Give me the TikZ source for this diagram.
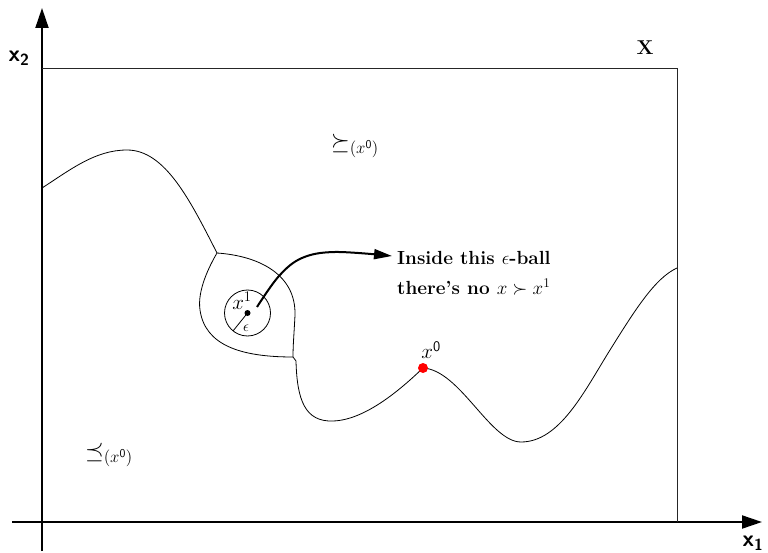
\RequirePackage{fix-cm}
\documentclass[tikz,border=0pt]{standalone}
\usepackage{amsmath,amssymb}
\usetikzlibrary{arrows.meta}
\tikzset{
  axis/.style={line width=2pt,-{Triangle[length=20pt,width=13pt]}},
  frame/.style={line width=0.9pt,draw=black!85},
  curve/.style={line width=0.8pt},
  lbl/.style={inner sep=0pt},
  axlbl/.style={inner sep=0pt,font=\fontsize{23}{26}\selectfont\sffamily\bfseries},
}
\begin{document}
\begin{tikzpicture}[x=1pt,y=-1pt]
\useasboundingbox (0,0) rectangle (768,553);
% axes
\coordinate (o) at (42,522);
\coordinate (ytop) at (42,8);
\coordinate (ybot) at (42,551);
\coordinate (xl) at (12,522);
\coordinate (xr) at (762,522);
\draw[axis] (ybot) -- (ytop);
\draw[axis] (xl) -- (xr);
\node[axlbl] (lx2) at (19,58) {x\textsubscript{2}};
\node[axlbl] (lx1) at (753,543) {x\textsubscript{1}};
% frame
\draw[frame] (42,68) -- (677,68) -- (677,522);
\node[lbl,font=\fontsize{20}{22}\selectfont\bfseries] (lX) at (645,48) {X};
% labels
\node[lbl,font=\fontsize{24}{26}\selectfont] (succ) at (355,146) {$\succeq_{(x^{\mathsf{0}})}$};
\node[lbl,font=\fontsize{24}{26}\selectfont] (prec) at (109,455) {$\preceq_{(x^{\mathsf{0}})}$};
% curves
\draw[curve] (42,188) .. controls (70,170) and (95,150) .. (127,150) .. controls (165,150) and (190,200) .. (217,253);
\draw[curve] (217,253) .. controls (260,256) and (296,275) .. (295,315) .. controls (294,335) and (293,345) .. (293,357);
\draw[curve] (293,357) .. controls (240,357) and (205,345) .. (200,310) .. controls (197,290) and (210,265) .. (217,253);
\draw[curve] (293,357) -- (296,361) .. controls (297,400) and (305,422) .. (333,421) .. controls (365,420) and (400,390) .. (423,368);
\draw[curve] (423,368) .. controls (460,370) and (490,442) .. (521,442) .. controls (560,442) and (585,390) .. (610,350) .. controls (635,310) and (655,278) .. (677,268);
% epsilon ball
\node[circle,draw,line width=0.8pt,minimum size=46pt,inner sep=0pt] (ball) at (247.5,313) {};
\node[circle,fill,minimum size=6pt,inner sep=0pt] (x1) at (247.5,313) {};
\draw[curve] (x1.center) -- (233,331);
\node[lbl,font=\fontsize{15}{17}\selectfont] (eps) at (246,328) {$\epsilon$};
\node[lbl,font=\fontsize{21}{23}\selectfont] (x1l) at (242,301) {$x^1$};
% x0
\node[circle,fill=red,minimum size=10pt,inner sep=0pt] (x0) at (423,368) {};
\node[lbl,font=\fontsize{21}{23}\selectfont] (x0l) at (431,350) {$x^{\mathsf{0}}$};
% note
\node[lbl,anchor=north west,align=left,font=\fontsize{19}{30}\selectfont\bfseries] (note) at (397,251) {Inside this $\epsilon$-ball\\ there's no $x\succ x^1$};
\coordinate (tip) at (392,256);
\draw[line width=2pt,-{Triangle[length=18pt,width=10pt]}] plot[smooth,tension=0.6] coordinates {(257,307) (279,276) (302,258) (335,252) (392,256)};
\end{tikzpicture}
\end{document}
